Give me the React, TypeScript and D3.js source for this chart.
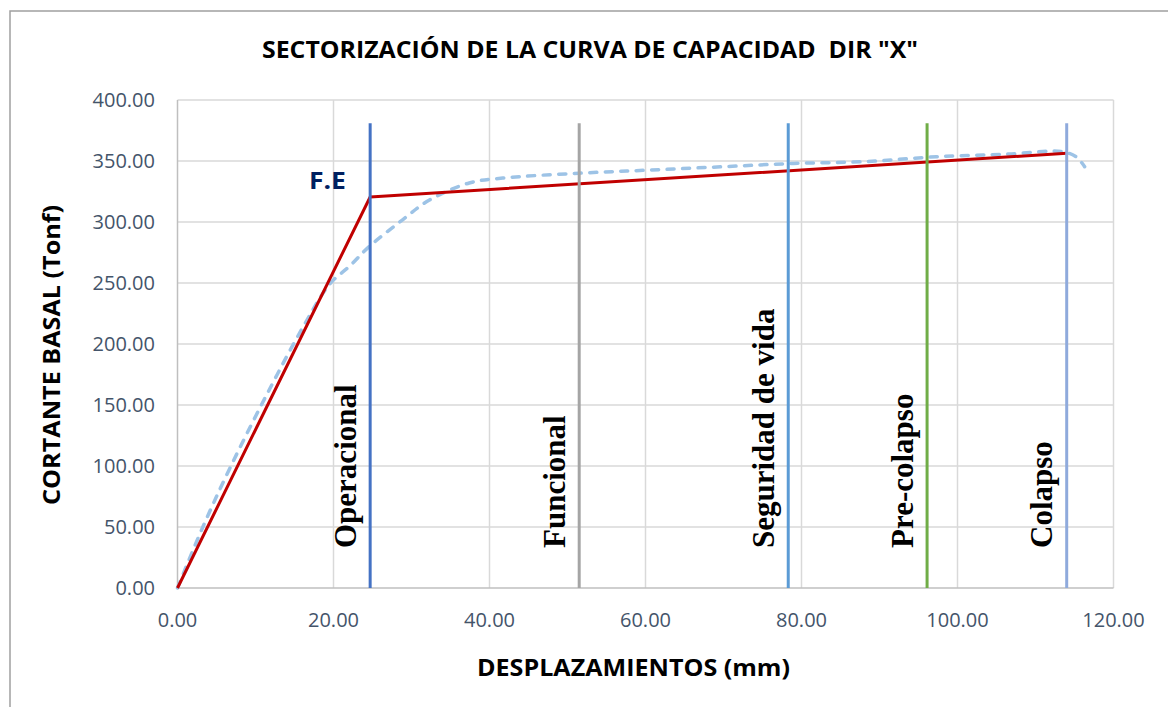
import React from "react";
import * as d3 from "d3";

const TITLE = 'SECTORIZACIÓN DE LA CURVA DE CAPACIDAD  DIR "X"';
const X_LABEL = "DESPLAZAMIENTOS (mm)";
const Y_LABEL = "CORTANTE BASAL (Tonf)";

const X_TICKS = [0, 20, 40, 60, 80, 100, 120];
const Y_TICKS = [0, 50, 100, 150, 200, 250, 300, 350, 400];

// Pushover capacity curve (dashed)
const CURVE_X = [0, 3.25, 6.7, 11.4, 16.1, 19.5, 22.1, 24.6, 28.9, 32.3, 37.4, 41.7, 51.5, 60.7, 69.9, 79, 88.2, 97.3, 106.5, 113.3, 115.2, 116.3];
const CURVE_Y = [0, 50, 98, 158, 214, 249, 264, 280, 302, 318, 332, 336, 340, 342.6, 345.3, 348, 349.5, 353.5, 355.7, 357.7, 353.5, 345.3];

// Bilinear idealization (red)
const BILINEAR_X = [0, 24.7, 114.0];
const BILINEAR_Y = [0, 320.5, 356.3];

// Performance levels
const LEVEL_NAMES = ["Operacional", "Funcional", "Seguridad de vida", "Pre-colapso", "Colapso"];
const LEVEL_X = [24.7, 51.5, 78.3, 96.1, 114.0];
const LEVEL_TOP = 381;
const LEVEL_COLORS = ["#4472C4", "#A5A5A5", "#5B9BD5", "#70AD47", "#8FAADC"];

const FE_LABEL = "F.E";

export default function App() {
  const W = 1168, H = 707;
  const x = d3.scaleLinear().domain([0, 120]).range([177.5, 1113.5]);
  const y = d3.scaleLinear().domain([0, 400]).range([588, 100]);
  const fmt = d3.format(".2f");

  const curve =
    d3
      .line<number>()
      .x((_, i) => x(CURVE_X[i]))
      .y((d) => y(d))
      .curve(d3.curveCatmullRom.alpha(0.5))(CURVE_Y) || "";
  const bilinear = d3.line<number>().x((_, i) => x(BILINEAR_X[i])).y((d) => y(d))(BILINEAR_Y) || "";

  const sans = "'Open Sans', sans-serif";
  const tickColor = "#44546A";

  return (
    <svg width={W} height={H} style={{ position: "absolute", left: 0, top: 0, background: "#fff" }}>
      <rect x={0} y={0} width={W} height={H} fill="#fff" />
      <path d={`M10,${H} V11 H${W}`} fill="none" stroke="#A0A0A0" strokeWidth={1.5} />

      {/* gridlines */}
      {Y_TICKS.filter((t) => t > 0).map((t) => (
        <line key={"gy" + t} x1={x(0)} x2={x(120)} y1={y(t)} y2={y(t)} stroke="#D9D9D9" strokeWidth={1.5} />
      ))}
      {X_TICKS.filter((t) => t > 0).map((t) => (
        <line key={"gx" + t} x1={x(t)} x2={x(t)} y1={y(0)} y2={y(400)} stroke="#D9D9D9" strokeWidth={1.5} />
      ))}
      <line x1={x(0)} x2={x(0)} y1={y(0)} y2={y(400)} stroke="#BFBFBF" strokeWidth={1.5} />
      <line x1={x(0)} x2={x(120)} y1={y(0)} y2={y(0)} stroke="#BFBFBF" strokeWidth={1.5} />

      {/* tick labels */}
      {Y_TICKS.map((t) => (
        <text key={"ty" + t} x={155} y={y(t) + 7} textAnchor="end" fontFamily={sans} fontSize={20} fill={tickColor}>
          {fmt(t)}
        </text>
      ))}
      {X_TICKS.map((t) => (
        <text key={"tx" + t} x={x(t)} y={626.5} textAnchor="middle" fontFamily={sans} fontSize={20} fill={tickColor}>
          {fmt(t)}
        </text>
      ))}

      {/* curves */}
      <path d={curve} fill="none" stroke="#9DC3E6" strokeWidth={3.5} strokeDasharray="7,8.5" strokeLinecap="round" />
      <path d={bilinear} fill="none" stroke="#C00000" strokeWidth={3} strokeLinejoin="round" />

      {/* level lines */}
      {LEVEL_X.map((lx, i) => (
        <line key={"lv" + i} x1={x(lx)} x2={x(lx)} y1={y(0)} y2={y(LEVEL_TOP)} stroke={LEVEL_COLORS[i]} strokeWidth={3} />
      ))}
      {LEVEL_X.map((lx, i) => (
        <text
          key={"lt" + i}
          transform={`translate(${x(lx) - 14.5},${y(0) - 40}) rotate(-90)`}
          fontFamily="'Liberation Serif', 'Times New Roman', serif"
          fontWeight="bold"
          fontSize={31}
          fill="#000"
        >
          {LEVEL_NAMES[i]}
        </text>
      ))}

      <text x={309} y={189} fontFamily={sans} fontWeight="bold" fontSize={23} fill="#002060" textLength={37} lengthAdjust="spacingAndGlyphs">
        {FE_LABEL}
      </text>

      {/* titles */}
      <text
        x={590}
        y={58}
        textAnchor="middle"
        fontFamily={sans}
        fontWeight="bold"
        fontSize={23}
        fill="#000"
        textLength={656}
        lengthAdjust="spacingAndGlyphs"
        style={{ whiteSpace: "pre" }}
      >
        {TITLE}
      </text>
      <text x={633.5} y={676} textAnchor="middle" fontFamily={sans} fontWeight="bold" fontSize={23} fill="#000" textLength={313} lengthAdjust="spacingAndGlyphs">
        {X_LABEL}
      </text>
      <text
        transform={`translate(60,355) rotate(-90)`}
        textAnchor="middle"
        fontFamily={sans}
        fontWeight="bold"
        fontSize={23}
        fill="#000"
        textLength={300}
        lengthAdjust="spacingAndGlyphs"
      >
        {Y_LABEL}
      </text>
    </svg>
  );
}
